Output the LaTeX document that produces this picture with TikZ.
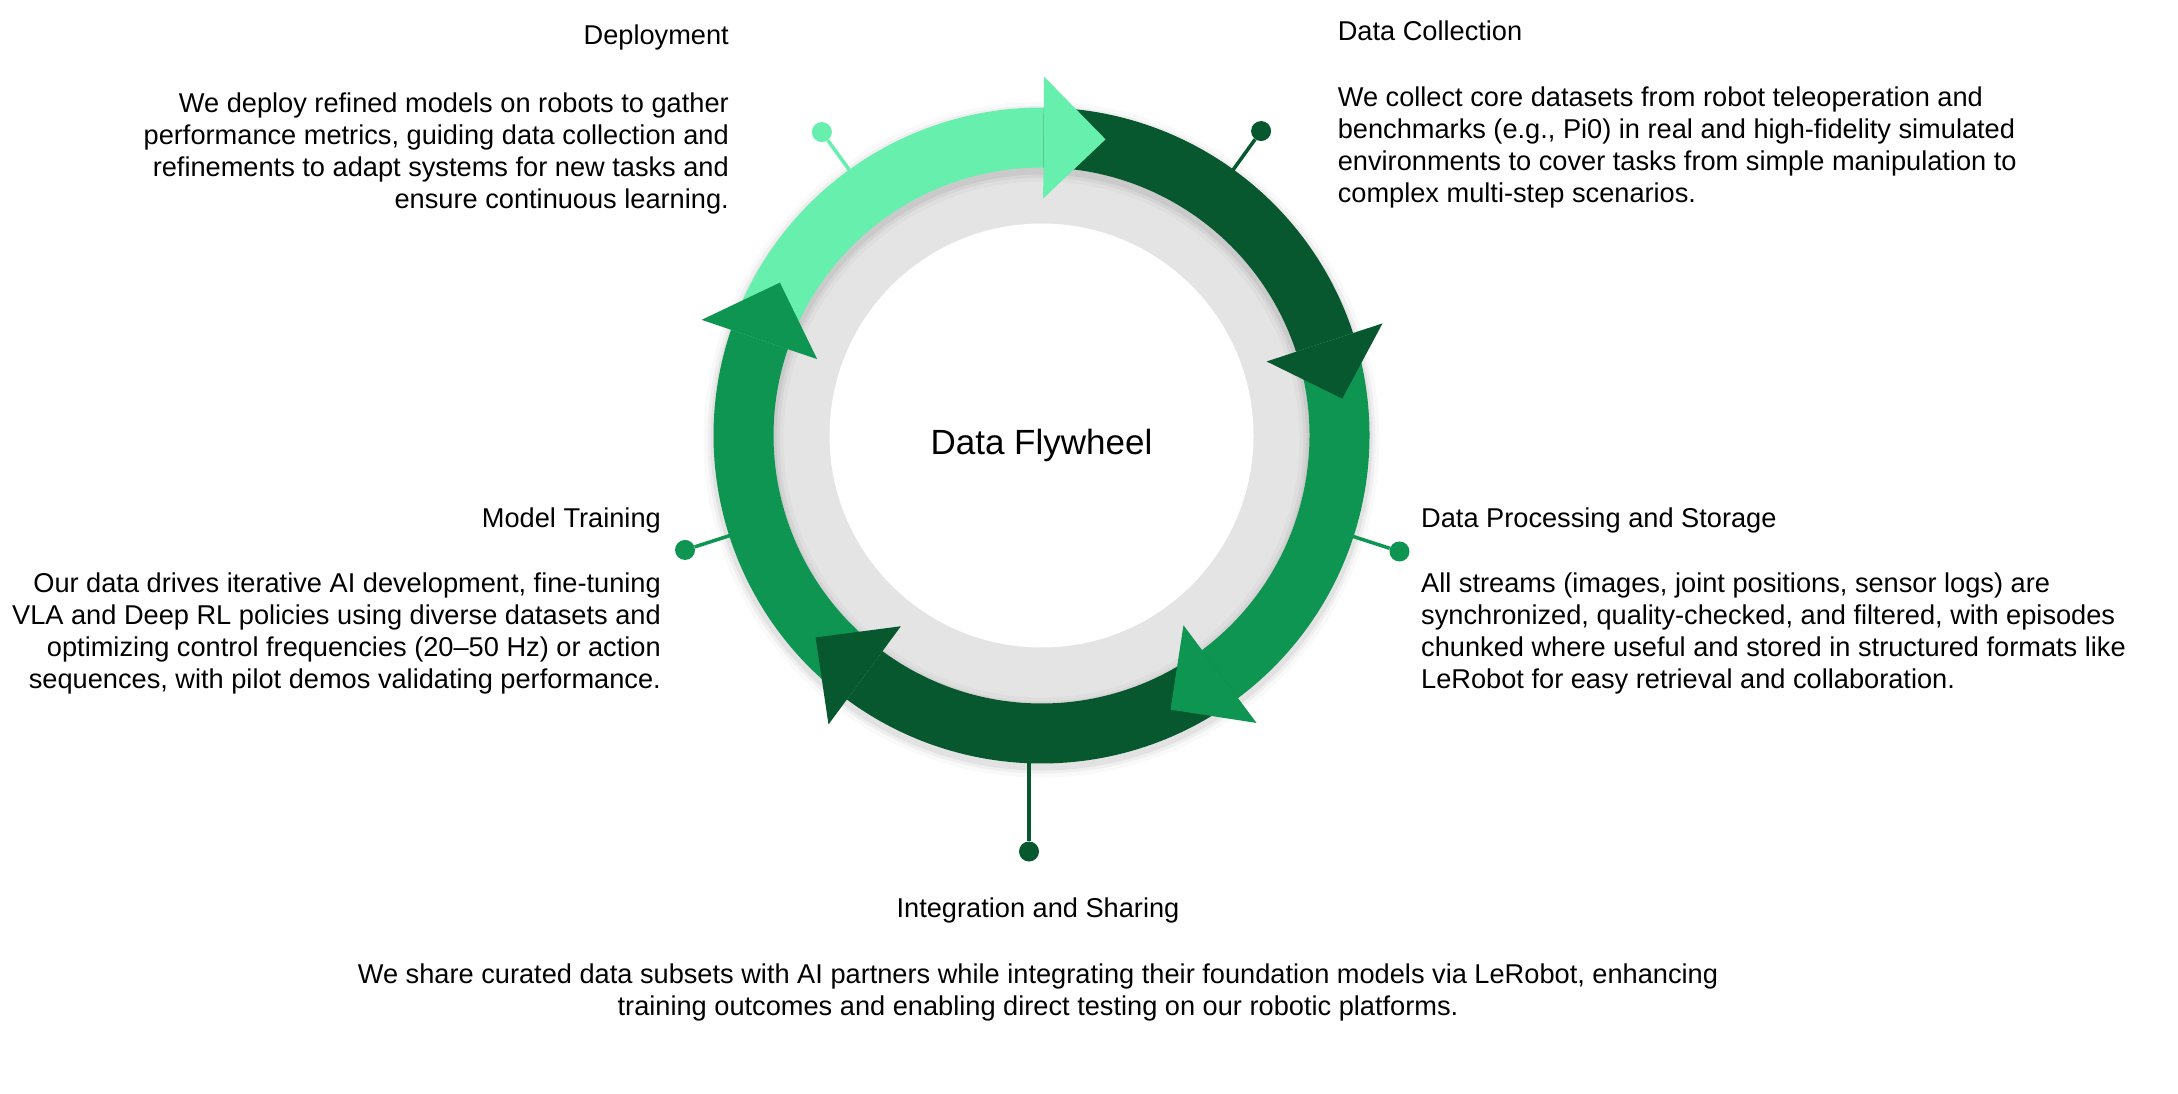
\documentclass[tikz,border=0pt]{standalone}
\usepackage{fontspec}
\setmainfont{Liberation Sans}
\definecolor{lightg}{HTML}{67EFAE}
\definecolor{darkg}{HTML}{07582F}
\definecolor{midg}{HTML}{0F9552}
\definecolor{ringgray}{HTML}{E4E4E4}
\newcommand{\ringshaft}[3]{\fill[#1] (#2:328) arc[start angle=#2, end angle=#3, radius=328] -- (#3:268) arc[start angle=#3, end angle=#2, radius=268] -- cycle;}
\newcommand{\ringhead}[3]{\fill[#1] (#2:237) -- (#2:359) -- (#3:303) -- cycle;}
\begin{document}
\begin{tikzpicture}[x=1pt,y=1pt,
  txt/.style={inner sep=0pt, font=\fontsize{27.2}{32}\selectfont},
  pindot/.style={circle, inner sep=0pt, minimum size=20pt},
  pinline/.style={line width=3.5pt},
]
\useasboundingbox[fill=white] (0,0) rectangle (2178,-1094);
\coordinate (C) at (1041.5,-435.5);
\begin{scope}[shift={(C)}]
  % gray ring and white centre
  \fill[ringgray] (0,0) circle (300);
  \fill[white] (0,0) circle (212);
  % soft shadow under the green ring
  \foreach \w/\o in {80/0.025,72/0.04,66/0.05}
    \draw[black, opacity=\o, line width=\w] (0,-4) circle (298);
  % pins
  \coordinate (pDep) at (125.9:320);
  \node[pindot, fill=lightg] (dDep) at (125.9:374.6) {};
  \draw[pinline, lightg] (pDep) -- (dDep);
  \coordinate (pCol) at (54.2:320);
  \node[pindot, fill=darkg] (dCol) at (54.2:375.4) {};
  \draw[pinline, darkg] (pCol) -- (dCol);
  \coordinate (pPro) at (-17.95:320);
  \node[pindot, fill=midg] (dPro) at (-17.95:376.3) {};
  \draw[pinline, midg] (pPro) -- (dPro);
  \coordinate (pTra) at (197.8:320);
  \node[pindot, fill=midg] (dTra) at (197.8:374.4) {};
  \draw[pinline, midg] (pTra) -- (dTra);
  \coordinate (pInt) at (-12.5,-320);
  \node[pindot, fill=darkg] (dInt) at (-12.5,-416) {};
  \draw[pinline, darkg] (pInt) -- (dInt);
  % arrow shafts
  \ringshaft{lightg}{161.2}{89.6}
  \ringshaft{darkg}{89.6}{18.2}
  \ringshaft{midg}{18.2}{-53.2}
  \ringshaft{darkg}{-53.2}{-126.4}
  \ringshaft{midg}{-126.4}{-198.8}
  % arrow heads
  \ringhead{lightg}{89.6}{77.8}
  \ringhead{darkg}{18.2}{7.0}
  \ringhead{midg}{-53.2}{-64.8}
  \ringhead{darkg}{-126.4}{-138.2}
  \ringhead{midg}{-198.8}{-210.3}
\end{scope}
% centre title
\node[inner sep=0pt, font=\fontsize{35}{40}\selectfont, anchor=base] (title) at (1041.5,-454) {Data Flywheel};
% Deployment
\node[txt, anchor=base east] (hDep) at (729,-44.5) {Deployment};
\node[txt, anchor=base east, align=right] (bDep) at (729,-208) {We deploy refined models on robots to gather\\performance metrics, guiding data collection and\\refinements to adapt systems for new tasks and\\ensure continuous learning.};
% Data Collection
\node[txt, anchor=base west] (hCol) at (1337.6,-40.5) {Data Collection};
\node[txt, anchor=base west, align=left] (bCol) at (1337.6,-202.7) {We collect core datasets from robot teleoperation and\\benchmarks (e.g., Pi0) in real and high-fidelity simulated\\environments to cover tasks from simple manipulation to\\complex multi-step scenarios.};
% Model Training
\node[txt, anchor=base east] (hTra) at (661,-527.5) {Model Training};
\node[txt, anchor=base east, align=right] (bTra) at (661,-688.8) {Our data drives iterative AI development, fine-tuning\\VLA and Deep RL policies using diverse datasets and\\optimizing control frequencies (20--50 Hz) or action\\sequences, with pilot demos validating performance.};
% Data Processing and Storage
\node[txt, anchor=base west] (hPro) at (1421,-527.5) {Data Processing and Storage};
\node[txt, anchor=base west, align=left] (bPro) at (1421,-688.8) {All streams (images, joint positions, sensor logs) are\\synchronized, quality-checked, and filtered, with episodes\\chunked where useful and stored in structured formats like\\LeRobot for easy retrieval and collaboration.};
% Integration and Sharing
\node[txt, anchor=base] (hInt) at (1038,-917) {Integration and Sharing};
\node[txt, anchor=base, align=center] (bInt) at (1038,-1015) {We share curated data subsets with AI partners while integrating their foundation models via LeRobot, enhancing\\training outcomes and enabling direct testing on our robotic platforms.};
\end{tikzpicture}
\end{document}
